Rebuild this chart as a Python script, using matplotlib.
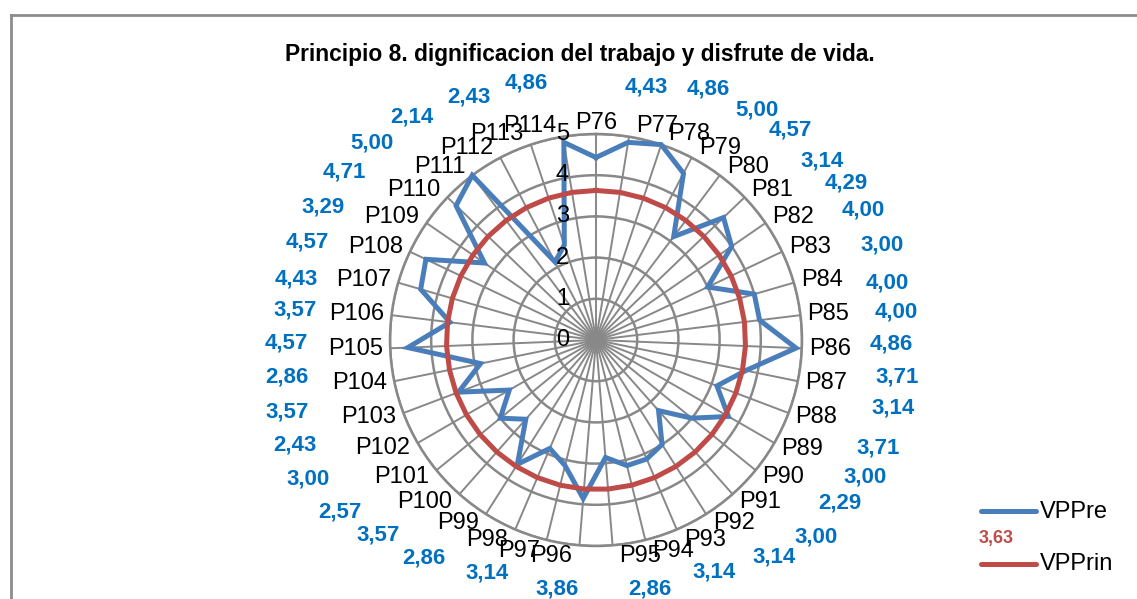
import numpy as np
import matplotlib
matplotlib.use("Agg")
import matplotlib.pyplot as plt
from matplotlib.lines import Line2D

# ---------------- data ----------------
categories = ["P76", "P77", "P78", "P79", "P80", "P81", "P82", "P83", "P84", "P85",
              "P86", "P87", "P88", "P89", "P90", "P91", "P92", "P93", "P94", "P95",
              "P96", "P97", "P98", "P99", "P100", "P101", "P102", "P103", "P104", "P105",
              "P106", "P107", "P108", "P109", "P110", "P111", "P112", "P113", "P114"]
vppre = [4.43, 4.86, 5.00, 4.57, 3.14, 4.29, 4.00, 3.00, 4.00, 4.00,
         4.86, 3.71, 3.14, 3.71, 3.00, 2.29, 3.00, 3.14, 3.14, 2.86,
         3.86, 3.14, 2.86, 3.57, 2.57, 3.00, 2.43, 3.57, 2.86, 4.57,
         3.57, 4.43, 4.57, 3.29, 4.71, 5.00, 2.14, 2.43, 4.86]
vpprin_value = 3.63
vpprin = [vpprin_value] * len(categories)
r_ticks = [0, 1, 2, 3, 4, 5]
series_names = ["VPPre", "VPPrin"]
title = "Principio 8. dignificacion del trabajo y disfrute de vida."

# ---------------- layout (pixel offsets of value labels from the radar centre) ----------------
label_offsets = [(50, 253), (112, 251), (161, 230), (194, 210), (226, 179), (250, 157),
                 (267, 130), (286, 95), (291, 57), (300, 28), (295, -4), (301, -37),
                 (297, -68), (282, -108), (269, -137), (244, -163), (220, -197), (178, -217),
                 (118, -232), (54, -249), (-39, -249), (-109, -233), (-172, -218), (-218, -195),
                 (-256, -172), (-288, -139), (-301, -105), (-309, -72), (-309, -37), (-310, -3),
                 (-301, 30), (-300, 61), (-289, 98), (-273, 133), (-252, 168), (-224, 197),
                 (-184, 223), (-127, 243), (-70, 257)]

W, H = 1137, 599
BLUE = "#4A7EBB"
RED = "#BE4B48"
LBLUE = "#0070C0"
GRID = "#888888"
FONT = ["Liberation Sans Narrow", "Liberation Sans", "DejaVu Sans"]
plt.rcParams["font.family"] = FONT

fig = plt.figure(figsize=(W / 100, H / 100), dpi=100)
fig.patch.set_facecolor("white")

cx, cy, R = 596, 340, 206
ax = fig.add_axes([(cx - R) / W, (H - cy - R) / H, 2 * R / W, 2 * R / H], projection="polar")
ax.set_theta_zero_location("N")
ax.set_theta_direction(-1)
ax.set_facecolor("none")

n = len(categories)
theta = np.arange(n) * 2 * np.pi / n
ax.set_xticks(theta)
ax.set_xticklabels([])
ax.set_yticks(r_ticks[1:])
ax.set_yticklabels([])
ax.set_ylim(0, 5)
ax.tick_params(length=0)
ax.xaxis.grid(True, color=GRID, lw=1.4)
ax.yaxis.grid(True, color=GRID, lw=1.8)
ax.spines["polar"].set_color(GRID)
ax.spines["polar"].set_linewidth(1.8)

tc = np.append(theta, theta[0])
ax.plot(tc, vppre + vppre[:1], color=BLUE, lw=3.6, solid_joinstyle="miter", zorder=5, clip_on=False)
ax.plot(tc, vpprin + vpprin[:1], color=RED, lw=3.6, zorder=6, clip_on=False)

# radial tick labels
for r in r_ticks:
    ax.annotate(str(r), xy=(0, r), xytext=(-27, 0), textcoords="offset pixels",
                ha="right", va="center", fontsize=17, color="black", annotation_clip=False, zorder=7)

# category labels
for t, lab in zip(theta, categories):
    s, c = np.sin(t), np.cos(t)
    if s > 0.02:
        ha, dx = "left", 7
    elif s < -0.02:
        ha, dx = "right", -7
    else:
        ha, dx = "center", 0
    ax.annotate(lab, xy=(t, 5), xytext=(dx, c * 11), textcoords="offset pixels",
                ha=ha, va="center", fontsize=17, color="black", annotation_clip=False, zorder=7)

# value labels
for v, (dx, dy) in zip(vppre, label_offsets):
    ax.annotate(f"{v:.2f}".replace(".", ","), xy=(0, 0), xytext=(dx, dy), textcoords="offset pixels",
                ha="center", va="center", fontsize=16, fontweight="bold", color=LBLUE,
                annotation_clip=False, zorder=8)

# title
fig.text(580 / W, 1 - 54 / H, title, ha="center", va="center", fontsize=16.4, fontweight="bold")

# legend (manual, Excel-like)
def fx(x):
    return x / W

def fy(y):
    return 1 - y / H

fig.add_artist(Line2D([fx(981), fx(1036)], [fy(511)] * 2, color=BLUE, lw=3.6, solid_capstyle="round"))
fig.text(fx(1040), fy(512), series_names[0], ha="left", va="center", fontsize=17)
fig.text(fx(996), fy(538), f"{vpprin_value:.2f}".replace(".", ","), ha="center", va="center",
         fontsize=13, fontweight="bold", color=RED)
fig.add_artist(Line2D([fx(981), fx(1036)], [fy(564)] * 2, color=RED, lw=3.6, solid_capstyle="round"))
fig.text(fx(1040), fy(564), series_names[1], ha="left", va="center", fontsize=17)

# chart-area border (top and left visible)
fig.add_artist(Line2D([fx(10.5), 1.0], [fy(15)] * 2, color="#8C8C8C", lw=2))
fig.add_artist(Line2D([fx(10.5)] * 2, [fy(15), 0.0], color="#8C8C8C", lw=2))

fig.savefig("out.png", dpi=100, facecolor="white")
